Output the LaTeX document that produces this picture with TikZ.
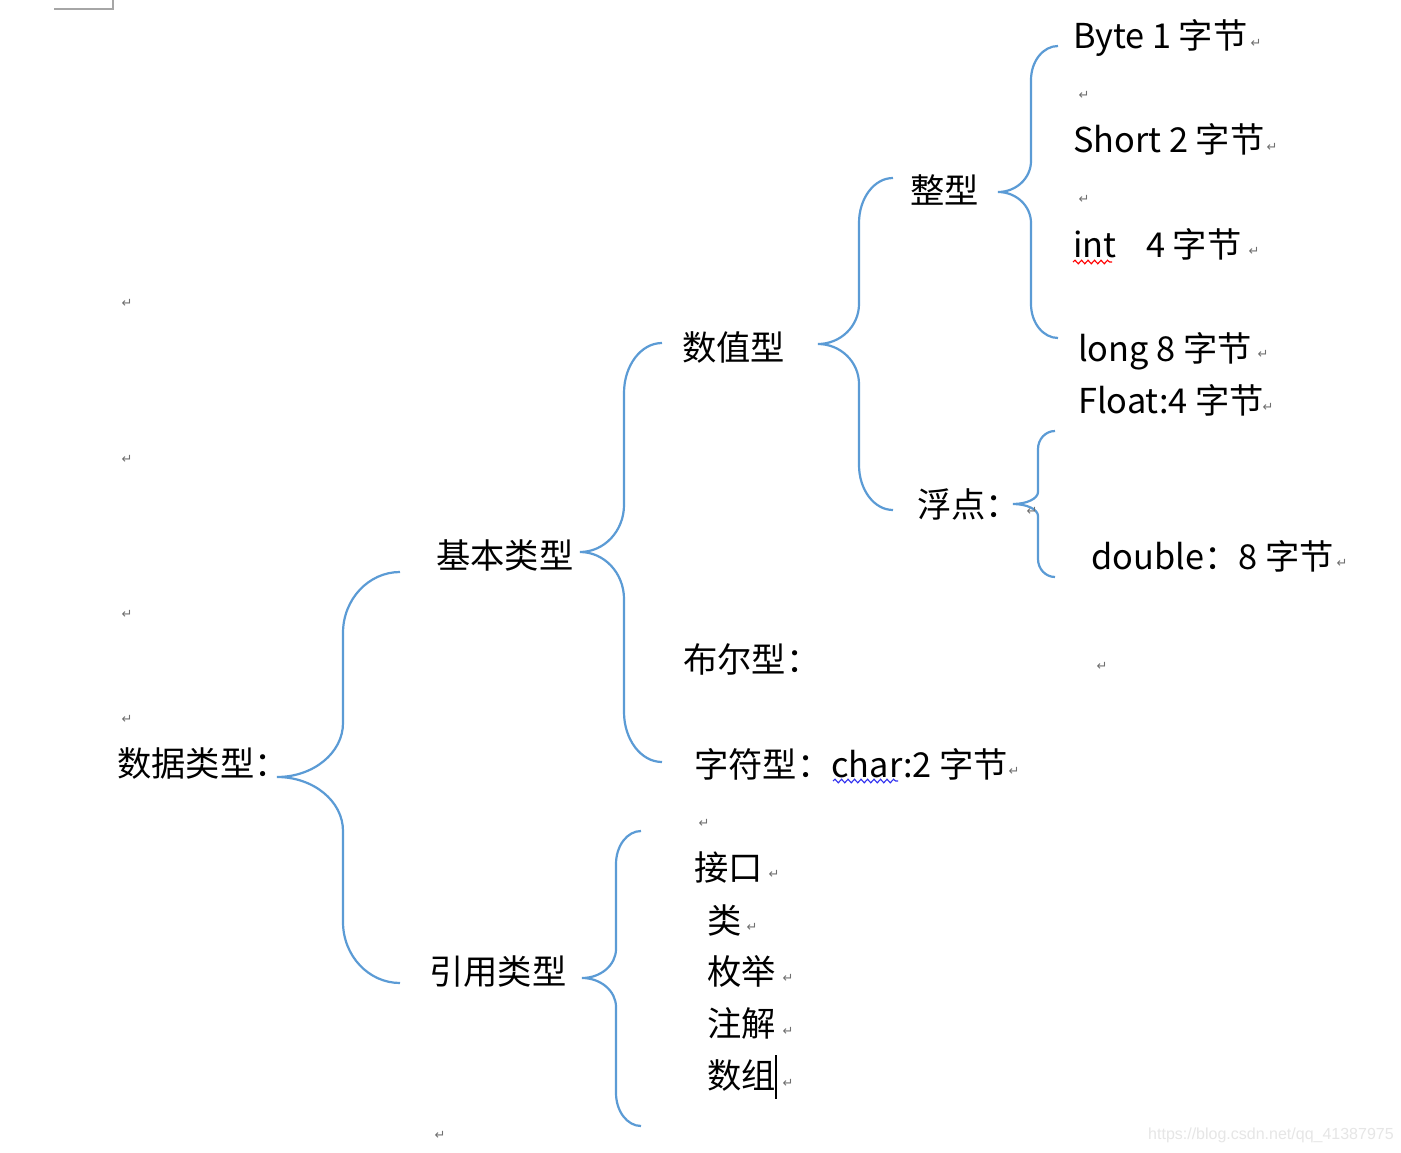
\documentclass[tikz,border=0pt]{standalone}
\usepackage{fontspec}
\setmainfont{Noto Sans CJK SC}
\newfontfamily\retfont{DejaVu Sans}
\newfontfamily\wmfont{Liberation Sans}
\usetikzlibrary{decorations.pathmorphing}
\definecolor{brblue}{HTML}{5B9BD5}
\definecolor{retgray}{HTML}{6F6F6F}
\definecolor{wmgray}{HTML}{E6E6E6}
\definecolor{boxgray}{HTML}{A6A6A6}
\definecolor{sqblue}{HTML}{3030F0}
\tikzset{
  lbl/.style={anchor=base west, inner sep=0pt, font=\fontsize{34.3}{40}\selectfont},
  ret/.style={inner sep=0pt, text=retgray, font=\retfont\fontsize{13}{15}\selectfont},
  brc/.style={draw=brblue, line width=2.2pt},
  squig/.style={decorate, decoration={snake, amplitude=1.8pt, segment length=6.5pt}, line width=1.1pt},
}
% #1 tip x, #2 tip y, #3 vertical x, #4 end x, #5 top y, #6 bottom y, #7 end corner height, #8 tip corner height
\newcommand\mybrace[8]{%
  \draw[brc] (#4,#5) .. controls +({-0.552*(#4-#3)},0) and +(0,{-0.552*#7}) .. (#3,{#5+#7})
    -- (#3,{#2-#8}) .. controls +(0,{0.552*#8}) and +({0.552*(#3-#1)},0) .. (#1,#2)
    .. controls +({0.552*(#3-#1)},0) and +(0,{-0.552*#8}) .. (#3,{#2+#8})
    -- (#3,{#6-#7}) .. controls +(0,{0.552*#7}) and +({-0.552*(#4-#3)},0) .. (#4,#6);}
\begin{document}
\begin{tikzpicture}[x=1pt,y=-1pt]
\useasboundingbox (0,0) rectangle (1401,1153);
\fill[white] (0,0) rectangle (1401,1153);
\draw[boxgray, line width=1.2pt] (54,9) -- (113,9) -- (113,0);

% labels
\node[lbl] (root) at (117,776) {数据类型：};
\node[lbl] (basic) at (436,568) {基本类型};
\node[lbl] (ref) at (429,984) {引用类型};
\node[lbl] (num) at (682,360) {数值型};
\node[lbl] (bool) at (683,672) {布尔型：};
\node[lbl] (chr) at (694,777) {字符型：char:2 字节};
\node[lbl] (intg) at (910,204) {整型};
\node[lbl] (flt) at (917,517) {浮点：};
\node[lbl] (byte) at (1073,49) {Byte 1 字节};
\node[lbl] (short) at (1073,153) {Short 2 字节};
\node[lbl] (int) at (1073,257) {int};
\node[lbl] (int4) at (1146,257) {4 字节};
\node[lbl] (long) at (1078,361) {long 8 字节};
\node[lbl] (float) at (1078,413) {Float:4 字节};
\node[lbl] (double) at (1091,569) {double：8 字节};
\node[lbl] (iface) at (694,880) {接口};
\node[lbl] (cls) at (707,933) {类};
\node[lbl] (enum) at (707,984) {枚举};
\node[lbl] (anno) at (707,1036) {注解};
\node[lbl] (arr) at (707,1088) {数组};

% braces
\mybrace{277}{777}{343}{400}{572}{983}{61}{54}
\mybrace{580}{552}{624}{662}{343}{762}{50}{47}
\mybrace{582}{978}{616}{641}{831}{1126}{33}{29}
\mybrace{818}{344}{859}{893}{178}{510}{45}{40}
\mybrace{998}{192}{1031}{1058}{46}{338}{34}{31}
\mybrace{1013}{504}{1038}{1055}{431}{577}{18}{12}

% spell-check squiggles and cursor
\draw[red, squig] (1073,262) -- (1112,262);
\draw[sqblue, squig] (833,781) -- (898,781);
\draw[line width=1.8pt] (776,1055) -- (776,1099);

% paragraph marks
\foreach \x/\y [count=\i] in {1256/43, 1084/95, 1272/147, 1084/199, 1254/251, 1263/354, 1268/407, 1342/563, 1032/511, 1102/666, 1014/771, 704/823, 774/874, 752/927, 788/978, 788/1031, 788/1083, 440/1135, 127/303, 127/459, 127/614, 127/719}
  \node[ret] (r\i) at (\x,\y) {↵};

\node[anchor=west, inner sep=0pt, text=wmgray, font=\wmfont\fontsize{16}{18}\selectfont] (wm) at (1148,1135) {https://blog.csdn.net/qq\_41387975};
\end{tikzpicture}
\end{document}
